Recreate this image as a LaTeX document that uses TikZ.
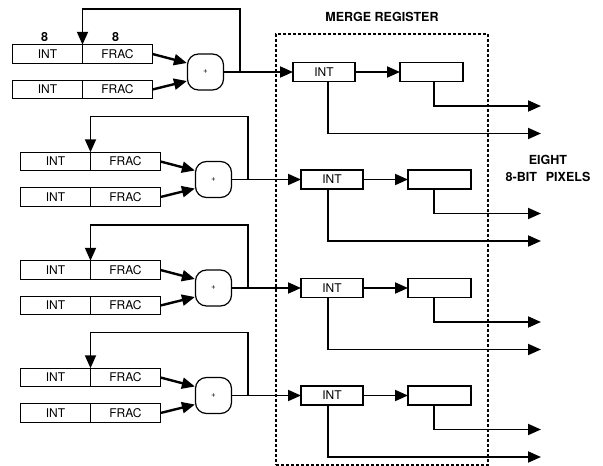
\documentclass[tikz,border=0pt]{standalone}
\usepackage{fontspec}
\setmainfont{TeX Gyre Heros}
\usetikzlibrary{arrows.meta, positioning}

\begin{document}
\begin{tikzpicture}[x=1pt, y=-1pt, node distance=0pt]

\tikzstyle{cell}=[rectangle, draw, line width=1.2pt, outer sep=0pt, inner sep=0pt, minimum width=70pt, minimum height=18.5pt, font=\fontsize{12}{13}\selectfont]
\tikzstyle{adder}=[rectangle, draw, line width=1.2pt, rounded corners=11pt, minimum width=36pt, minimum height=36pt, inner sep=0pt, font=\fontsize{8}{9}\selectfont]
\tikzstyle{reg}=[rectangle, draw, line width=1.9pt, outer sep=0pt, inner sep=0pt, minimum width=62pt, minimum height=19pt, font=\fontsize{12}{13}\selectfont]
\tikzstyle{line}=[draw, line width=1.9pt, -{Triangle[length=13pt,width=11pt]}]
\tikzstyle{feed}=[line, line width=2.4pt]
\tikzstyle{title}=[inner sep=0pt, font=\bfseries\fontsize{12.5}{14}\selectfont]

\useasboundingbox (0,0) rectangle (603,466);

\node (merge) [draw, densely dashed, line width=1.1pt, minimum width=212pt, minimum height=431pt] at (382,249.5) {};
\node (mergelabel) [title] at (382,17) {MERGE REGISTER};
\node (eight) [title] at (548,160) {EIGHT};
\node (pixels) [title] at (548,177) {8-BIT\hspace{9pt}PIXELS};

\coordinate (intdrop) at (328,0);
\coordinate (bufdrop) at (434,0);

\foreach \r/\y/\s in {1/0/8, 2/107.5/0, 3/216/0, 4/323.5/0} {
  % accumulators
  \node (ina\r) [cell] at (55.5-\s,54+\y) {INT};
  \node (fra\r) [cell, right=of ina\r] {FRAC};
  \node (inb\r) [cell, below=17pt of ina\r] {INT};
  \node (frb\r) [cell, right=of inb\r] {FRAC};
  \node (add\r) [adder] at (213.5-\s,72+\y) {+};
  % merge register
  \node (mint\r) [reg] at (332-\s,72+\y) {INT};
  \node (mbuf\r) [reg, minimum width=63pt] at (439.5-\s,72+\y) {};
  \coordinate (tap\r) at (248-\s,72+\y);
  \coordinate (top\r) at (248-\s,9+\y);
  \coordinate (pa\r) at (541,106+\y);
  \coordinate (pb\r) at (541,133.5+\y);

  % connections
  \draw[feed] (fra\r.east) -- ([yshift=9pt]add\r.west);
  \draw[feed] (frb\r.east) -- ([yshift=-9pt]add\r.west);
  \draw[line] (add\r.east) -- (mint\r.west);
  \draw[line] (tap\r) -- (top\r) -| (fra\r.north west);
  \draw[line] (mint\r) -- (mbuf\r);
  \draw[line] (mbuf\r.south -| bufdrop) |- (pa\r);
  \draw[line] (mint\r.south -| intdrop) |- (pb\r);
}

\node (bits1) [title, above=3pt of ina1, xshift=-3pt] {8};
\node (bits2) [title, above=3pt of fra1, xshift=-2pt] {8};

\end{tikzpicture}
\end{document}
